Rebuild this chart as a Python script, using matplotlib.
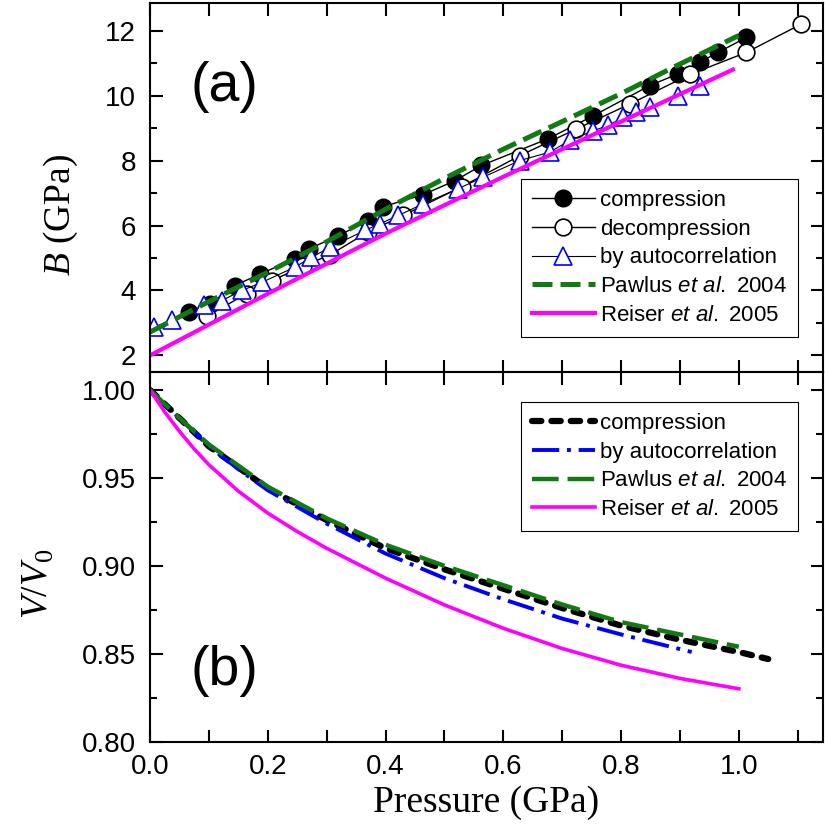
import matplotlib
matplotlib.use("Agg")
import matplotlib.pyplot as plt
from matplotlib.ticker import MultipleLocator, FormatStrFormatter

plt.rcParams['font.family'] = ['Liberation Sans', 'DejaVu Sans']
plt.rcParams['mathtext.fontset'] = 'custom'
plt.rcParams['mathtext.rm'] = 'Liberation Sans'
plt.rcParams['mathtext.it'] = 'Liberation Sans:italic'
plt.rcParams['mathtext.sf'] = 'Liberation Serif:italic'
plt.rcParams['mathtext.tt'] = 'Liberation Serif'

# (a) bulk modulus vs pressure
comp_p = [0.067, 0.102, 0.144, 0.187, 0.246, 0.270, 0.320, 0.371, 0.396, 0.464,
          0.518, 0.563, 0.676, 0.753, 0.849, 0.897, 0.934, 0.965, 1.013]
comp_b = [3.33, 3.59, 4.15, 4.51, 4.97, 5.28, 5.69, 6.15, 6.58, 6.95,
          7.38, 7.85, 8.67, 9.38, 10.31, 10.67, 11.03, 11.33, 11.79]
decomp_p = [0.096, 0.164, 0.207, 0.26, 0.306, 0.37, 0.43, 0.53, 0.628, 0.724,
            0.815, 0.917, 1.013, 1.106]
decomp_b = [3.2, 3.9, 4.3, 4.75, 5.1, 5.8, 6.31, 7.2, 8.15, 8.97,
            9.74, 10.65, 11.33, 12.2]
auto_p = [0.006, 0.037, 0.091, 0.122, 0.156, 0.19, 0.246, 0.274, 0.306, 0.365,
          0.39, 0.422, 0.464, 0.523, 0.566, 0.628, 0.679, 0.713, 0.753, 0.778,
          0.804, 0.826, 0.849, 0.897, 0.934]
auto_b = [2.87, 3.08, 3.54, 3.69, 4.0, 4.25, 4.72, 5.02, 5.33, 5.85,
          6.05, 6.31, 6.67, 7.13, 7.49, 8.0, 8.26, 8.62, 8.92, 9.08,
          9.33, 9.49, 9.64, 10.0, 10.31]
pawlus_p = [0, 0.1, 0.2, 0.3, 0.4, 0.5, 0.6, 0.7, 0.8, 0.9, 1.0]
pawlus_b = [2.72, 3.66, 4.56, 5.5, 6.5, 7.45, 8.35, 9.2, 10.06, 10.97, 11.85]
reiser_p = [0, 0.2, 0.4, 0.6, 0.8, 0.99]
reiser_b = [2.0, 3.9, 5.75, 7.5, 9.2, 10.8]

# (b) relative volume vs pressure
vc_p = [0, 0.05, 0.1, 0.15, 0.2, 0.3, 0.4, 0.5, 0.6, 0.7, 0.8, 0.9, 1.0, 1.05]
vc_v = [1.0, 0.984, 0.968, 0.956, 0.944, 0.926, 0.910, 0.898, 0.887, 0.876,
        0.866, 0.858, 0.851, 0.847]
va_p = [0, 0.05, 0.1, 0.15, 0.2, 0.3, 0.4, 0.5, 0.6, 0.7, 0.8, 0.92]
va_v = [1.0, 0.984, 0.968, 0.955, 0.943, 0.924, 0.907, 0.893, 0.881, 0.870,
        0.861, 0.851]
vp_p = [0, 0.05, 0.1, 0.15, 0.2, 0.3, 0.4, 0.5, 0.6, 0.7, 0.8, 0.9, 1.0]
vp_v = [1.0, 0.984, 0.969, 0.957, 0.945, 0.927, 0.912, 0.900, 0.889, 0.878,
        0.868, 0.861, 0.854]
vr_p = [0, 0.025, 0.05, 0.075, 0.1, 0.15, 0.2, 0.25, 0.3, 0.4, 0.5, 0.6,
        0.7, 0.8, 0.9, 1.0]
vr_v = [1.0, 0.9875, 0.9765, 0.9665, 0.9575, 0.9425, 0.930, 0.9195, 0.910,
        0.893, 0.8778, 0.8645, 0.853, 0.8435, 0.836, 0.8301]

green = '#127a12'
blue = '#0000ff'
magenta = '#ff00ff'

fig = plt.figure(figsize=(8.25, 8.36), dpi=100)
ax1 = fig.add_axes([150/825, 1 - 371.7/836, 673/825, 368.7/836])
ax2 = fig.add_axes([150/825, 1 - 741.7/836, 673/825, 370/836], sharex=ax1)

ax1.plot(comp_p, comp_b, '-o', color='k', lw=1, ms=12, mfc='k', mec='k',
         label='compression')
ax1.plot(decomp_p, decomp_b, '-o', color='k', lw=1, ms=12, mfc='white',
         mec='k', mew=1.2, label='decompression')
ax1.plot(auto_p, auto_b, '-^', color='k', lw=0.8, ms=13, mfc='white',
         mec=blue, mew=1.2, label='by autocorrelation')
ax1.plot(pawlus_p, pawlus_b, color=green, lw=3.6, ls=(0, (4, 1.6)),
         label=r'Pawlus $\mathit{et\ al.}$ 2004')
ax1.plot(reiser_p, reiser_b, color=magenta, lw=3,
         label=r'Reiser $\mathit{et\ al.}$ 2005')

ax2.plot(vc_p, vc_v, color='k', lw=4.5, ls=(0, (1.5, 1.6)),
         dash_capstyle='round', label='compression')
ax2.plot(va_p, va_v, color=blue, lw=2.8, ls=(0, (7, 2, 1, 2)),
         label='by autocorrelation')
ax2.plot(vp_p, vp_v, color=green, lw=3.2, ls=(0, (6, 2)),
         label=r'Pawlus $\mathit{et\ al.}$ 2004')
ax2.plot(vr_p, vr_v, color=magenta, lw=2.6,
         label=r'Reiser $\mathit{et\ al.}$ 2005')

ax1.set_xlim(0, 1.143)
ax1.set_ylim(1.5, 12.85)
ax2.set_ylim(0.80, 1.0104)

ax1.yaxis.set_major_locator(MultipleLocator(2))
ax1.yaxis.set_minor_locator(MultipleLocator(1))
ax2.yaxis.set_major_locator(MultipleLocator(0.05))
ax2.yaxis.set_minor_locator(MultipleLocator(0.025))
ax2.xaxis.set_major_locator(MultipleLocator(0.2))
ax2.xaxis.set_minor_locator(MultipleLocator(0.1))
ax2.yaxis.set_major_formatter(FormatStrFormatter('%.2f'))
ax2.xaxis.set_major_formatter(FormatStrFormatter('%.1f'))

for ax in (ax1, ax2):
    for s in ax.spines.values():
        s.set_linewidth(1.5)
    ax.tick_params(which='both', direction='in', top=True, right=True,
                   width=1.5, labelsize=20)
    ax.tick_params(axis='y', which='major', length=9, pad=10)
    ax.tick_params(axis='y', which='minor', length=5)
    ax.tick_params(axis='x', which='both', length=9, pad=9)
ax1.tick_params(axis='x', labelbottom=False)

ax1.set_ylabel(r'$\mathsf{B}$ (GPa)', fontfamily='Liberation Serif', fontsize=27)
ax1.yaxis.set_label_coords(-0.104, 0.425)
ax2.set_ylabel(r'$\mathsf{V}$/$\mathsf{V}_\mathtt{0}$', fontfamily='Liberation Serif',
               fontsize=27)
ax2.yaxis.set_label_coords(-0.14, 0.426)
ax2.set_xlabel('Pressure (GPa)', fontfamily='Liberation Serif', fontsize=27)

ax1.text(0.11, 0.771, '(a)', transform=ax1.transAxes, fontsize=40,
         ha='center', va='center')
ax2.text(0.11, 0.192, '(b)', transform=ax2.transAxes, fontsize=40,
         ha='center', va='center')

leg_kw = dict(fontsize=16, frameon=True, fancybox=False, framealpha=1,
              edgecolor='k', handlelength=2.8, handletextpad=0.25,
              labelspacing=0.35, borderpad=0.5, numpoints=1, borderaxespad=0)
l1 = ax1.legend(loc='lower right', bbox_to_anchor=(0.963, 0.094), **leg_kw)
l2 = ax2.legend(loc='upper right', bbox_to_anchor=(0.963, 0.919), **leg_kw)
for l in (l1, l2):
    l.get_frame().set_linewidth(0.8)

fig.savefig('out.png', dpi=100)
